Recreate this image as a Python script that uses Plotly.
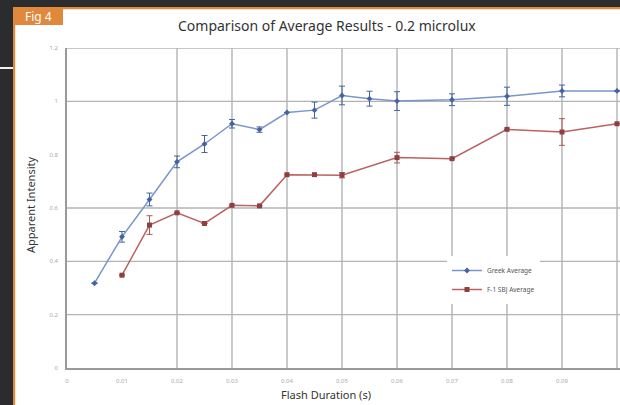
import plotly.graph_objects as go

# ---- data ----
blue_x = [0.005, 0.01, 0.015, 0.02, 0.025, 0.03, 0.035, 0.04, 0.045, 0.05, 0.055, 0.06, 0.07, 0.08, 0.09, 0.1]
blue_y = [0.318, 0.492, 0.632, 0.773, 0.84, 0.916, 0.894, 0.958, 0.967, 1.022, 1.01, 1.001, 1.006, 1.019, 1.039, 1.039]
blue_err = [0, 0.02, 0.024, 0.022, 0.032, 0.016, 0.01, 0, 0.03, 0.035, 0.028, 0.035, 0.022, 0.034, 0.022, 0]

red_x = [0.01, 0.015, 0.02, 0.025, 0.03, 0.035, 0.04, 0.045, 0.05, 0.06, 0.07, 0.08, 0.09, 0.1]
red_y = [0.348, 0.536, 0.582, 0.542, 0.61, 0.608, 0.725, 0.725, 0.723, 0.789, 0.785, 0.895, 0.885, 0.916]
red_err = [0, 0.035, 0, 0, 0, 0, 0, 0, 0.01, 0.02, 0, 0, 0.05, 0]

x_ticks = [0, 0.01, 0.02, 0.03, 0.04, 0.05, 0.06, 0.07, 0.08, 0.09, 0.1]
x_tick_text = ["0", "0.01", "0.02", "0.03", "0.04", "0.05", "0.06", "0.07", "0.08", "0.09", "0.1"]
y_ticks = [0, 0.2, 0.4, 0.6, 0.8, 1.0, 1.2]
y_tick_text = ["0", "0.2", "0.4", "0.6", "0.8", "1", "1.2"]
x_grid = [0.02, 0.03, 0.04, 0.05, 0.06, 0.07, 0.08, 0.09, 0.1]
y_grid = [0.2, 0.4, 0.6, 1.0, 1.2]

series_names = ["Greek Average", "F-1 SBJ Average"]

# ---- layout geometry (pixels) ----
W, H = 620, 405
L, T, B, R = 67, 48, 37, 0
PW, PH = W - L - R, H - T - B


def px(x):
    return (x - L) / PW


def py(y):
    return (H - B - y) / PH


DARK = "#2b2c2e"
ORANGE = "#e0893c"
GRID = "#b3b3b3"

fig = go.Figure()

fig.add_trace(go.Scatter(
    x=blue_x, y=blue_y, name=series_names[0], mode="lines+markers",
    line=dict(color="#7896cb", width=1.5),
    marker=dict(symbol="diamond", size=4.5, color="#4463a0"),
    error_y=dict(type="data", array=blue_err, color="#4463a0", thickness=1, width=3),
    cliponaxis=False,
))
fig.add_trace(go.Scatter(
    x=red_x, y=red_y, name=series_names[1], mode="lines+markers",
    line=dict(color="#bb6262", width=1.5),
    marker=dict(symbol="square", size=5, color="#8e4040"),
    error_y=dict(type="data", array=red_err, color="#b05555", thickness=1, width=3),
    cliponaxis=False,
))

shapes = []
# gridlines
for gx in x_grid:
    shapes.append(dict(type="line", xref="x", yref="paper", x0=gx, x1=gx, y0=0, y1=1,
                       line=dict(color=GRID, width=1.4), layer="below"))
for gy in y_grid:
    shapes.append(dict(type="line", xref="paper", yref="y", x0=0, x1=1, y0=gy, y1=gy,
                       line=dict(color=GRID, width=1.4), layer="below"))
# page frame
shapes += [
    dict(type="rect", xref="paper", yref="paper", x0=px(-5), x1=px(W + 5), y0=py(-5), y1=py(7),
         fillcolor=DARK, line=dict(width=0), layer="above"),
    dict(type="rect", xref="paper", yref="paper", x0=px(-5), x1=px(13), y0=py(-5), y1=py(H + 5),
         fillcolor=DARK, line=dict(width=0), layer="above"),
    dict(type="rect", xref="paper", yref="paper", x0=px(13), x1=px(W + 5), y0=py(7), y1=py(9.2),
         fillcolor=ORANGE, line=dict(width=0), layer="above"),
    dict(type="rect", xref="paper", yref="paper", x0=px(13), x1=px(15.2), y0=py(7), y1=py(H + 5),
         fillcolor=ORANGE, line=dict(width=0), layer="above"),
    dict(type="rect", xref="paper", yref="paper", x0=px(13), x1=px(63), y0=py(7), y1=py(25),
         fillcolor=ORANGE, line=dict(width=0), layer="above"),
    dict(type="rect", xref="paper", yref="paper", x0=px(-5), x1=px(13), y0=py(67), y1=py(69),
         fillcolor="#f2f2f2", line=dict(width=0), layer="above"),
]

annotations = [
    dict(text="Fig 4", xref="paper", yref="paper", x=px(38), y=py(16.5), showarrow=False,
         xanchor="center", yanchor="middle", font=dict(family="Noto Sans", size=12, color="white")),
    dict(text="Comparison of Average Results - 0.2 microlux", xref="paper", yref="paper",
         x=px(327), y=py(25), showarrow=False, xanchor="center", yanchor="middle",
         font=dict(family="Noto Sans", size=14, color="#333333")),
    dict(text="Apparent Intensity", xref="paper", yref="paper", x=px(30), y=py(205),
         showarrow=False, textangle=-90, xanchor="center", yanchor="middle",
         font=dict(family="Noto Sans", size=11, color="#333333")),
    dict(text="Flash Duration (s)", xref="paper", yref="paper", x=px(326), y=py(394),
         showarrow=False, xanchor="center", yanchor="middle",
         font=dict(family="Noto Sans", size=11, color="#333333")),
]

fig.update_layout(
    width=W, height=H,
    margin=dict(l=L, r=R, t=T, b=B, pad=0),
    paper_bgcolor="white", plot_bgcolor="white",
    shapes=shapes, annotations=annotations,
    showlegend=True,
    legend=dict(x=px(447), y=py(256), xanchor="left", yanchor="top",
                bgcolor="white", borderwidth=0,
                font=dict(family="Noto Sans", size=6.5, color="#555555"),
                itemwidth=30, tracegroupgap=0),
    xaxis=dict(range=[0, PW / 55 * 0.01], tickvals=x_ticks, ticktext=x_tick_text,
               showgrid=False, zeroline=False, showline=True, linecolor="#9a9a9a", linewidth=1.5,
               ticks="", tickfont=dict(family="Noto Sans", size=6, color="#aaaaaa"),
               ticklabelstandoff=6),
    yaxis=dict(range=[0, 1.2], tickvals=y_ticks, ticktext=y_tick_text,
               showgrid=False, zeroline=False, showline=True, linecolor="#9a9a9a", linewidth=1.5,
               ticks="", tickfont=dict(family="Noto Sans", size=6, color="#aaaaaa"),
               ticklabelstandoff=6),
)

fig.write_html("out.html", config={"displayModeBar": False})

# remove the browser's default page margin so the figure sits at the top-left corner
with open("out.html", "r", encoding="utf-8") as f:
    html = f.read()
html = html.replace("<head>", "<head><style>html,body{margin:0;padding:0;overflow:hidden;}</style>", 1)
with open("out.html", "w", encoding="utf-8") as f:
    f.write(html)
